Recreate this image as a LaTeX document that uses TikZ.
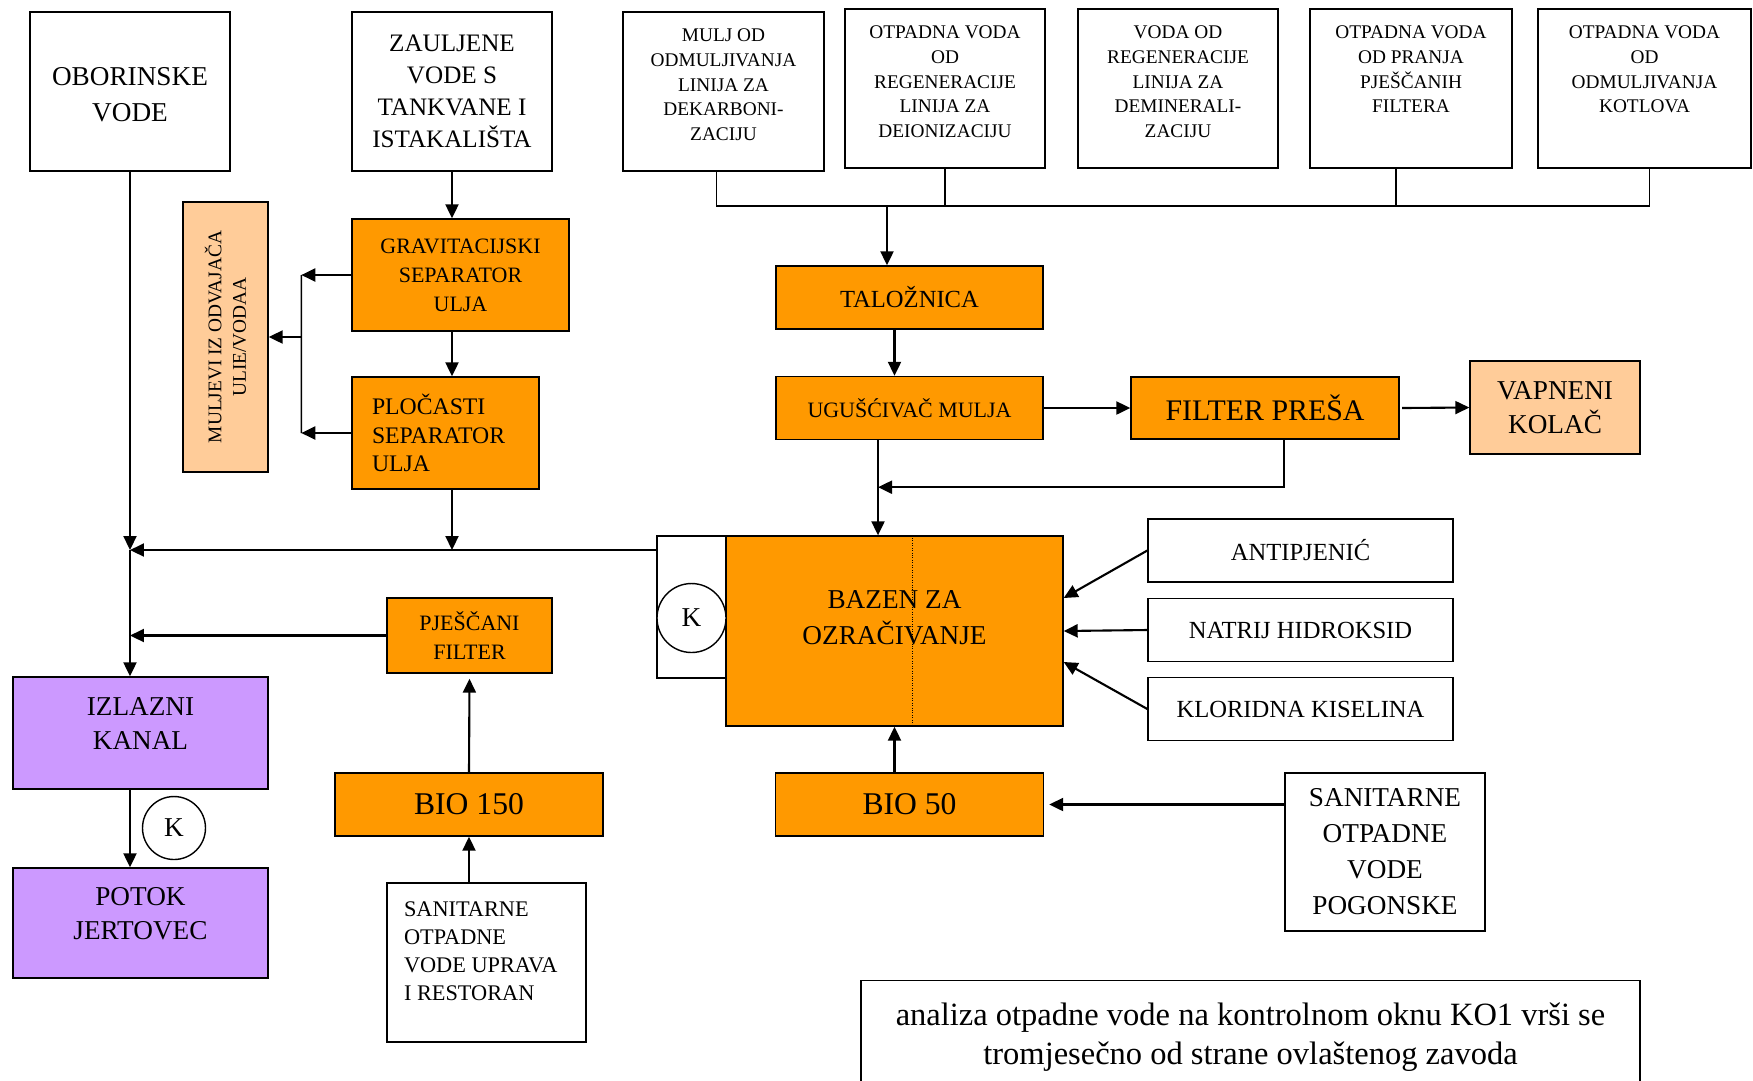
\documentclass[tikz,border=0pt]{standalone}
\usepackage{fontspec}
\setmainfont{Liberation Serif}
\usepackage{xcolor}
\usetikzlibrary{arrows.meta}

\definecolor{orng}{HTML}{FF9900}
\definecolor{peach}{HTML}{FFCC99}
\definecolor{lilac}{HTML}{CC99FF}
\newcommand{\fs}[2]{\fontsize{#1}{#2}\selectfont}
\newcommand{\topcell}[1]{\parbox[c][2.5cm][t]{3.9cm}{\centering #1}}
\newcommand{\liftcell}[2]{\raisebox{#1}[0pt][0pt]{\begin{tabular}{@{}c@{}}#2\end{tabular}}}

\begin{document}
\begin{tikzpicture}[x=0.02cm, y=-0.02cm, >={Triangle[length=2.8mm,width=2.6mm]},
  box/.style={draw, line width=0.8pt, fill=white, inner sep=0pt, align=center},
  obox/.style={box, fill=orng},
  pbox/.style={box, fill=peach},
  lbox/.style={box, fill=lilac},
  kcirc/.style={circle, draw, line width=0.8pt, fill=white, inner sep=0pt, font=\fs{15.5}{18}},
  link/.style={line width=0.8pt},
  flow/.style={->, line width=1.2pt}]
  \clip (0,0) rectangle (1753,1080);
  % sources
  \node[box, font=\fs{15.5}{20.5}, minimum width=4cm, minimum height=3.18cm] (ob) at (130,91.5) {\liftcell{-0.23cm}{OBORINSKE\\VODE}};
  \node[box, font=\fs{14.3}{18.3}, minimum width=4cm, minimum height=3.18cm] (za) at (452,91.5) {ZAULJENE\\VODE S\\TANKVANE I\\ISTAKALIŠTA};
  \node[box, font=\fs{11}{14}, minimum width=4.02cm, minimum height=3.18cm] (t1) at (723.5,91.5) {\topcell{MULJ OD\\ODMULJIVANJA\\LINIJA ZA\\DEKARBONI-\\ZACIJU}};
  \node[box, font=\fs{11}{14}, minimum width=4cm, minimum height=3.18cm] (t2) at (945,88.5) {\topcell{OTPADNA VODA\\OD\\REGENERACIJE\\LINIJA ZA\\DEIONIZACIJU}};
  \node[box, font=\fs{11}{14}, minimum width=4cm, minimum height=3.18cm] (t3) at (1178,88.5) {\topcell{VODA OD\\REGENERACIJE\\LINIJA ZA\\DEMINERALI-\\ZACIJU}};
  \node[box, font=\fs{11}{14}, minimum width=4.04cm, minimum height=3.18cm] (t4) at (1411,88.5) {\topcell{OTPADNA VODA\\OD PRANJA\\PJEŠČANIH\\FILTERA}};
  \node[box, font=\fs{11}{14}, minimum width=4.26cm, minimum height=3.18cm] (t5) at (1644.5,88.5) {\topcell{OTPADNA VODA\\OD\\ODMULJIVANJA\\KOTLOVA}};
  % oil separators
  \node[pbox, font=\fs{11}{14}, rotate=90, minimum width=5.4cm, minimum height=1.7cm] (mu) at (225.5,337) {MULJEVI IZ ODVAJAČA\\ULIE/VODAA};
  \node[obox, font=\fs{12.5}{16.5}, minimum width=4.34cm, minimum height=2.24cm] (gr) at (460.5,275) {GRAVITACIJSKI\\SEPARATOR\\ULJA};
  \node[obox, font=\fs{13.5}{16.2}, text width=2.94cm, align=left, minimum width=3.74cm, minimum height=2.24cm] (pl) at (445.5,433) {PLOČASTI\\SEPARATOR\\ULJA};
  % sludge line
  \node[obox, font=\fs{14}{17}, minimum width=5.34cm, minimum height=1.26cm] (ta) at (909.5,297.5) {TALOŽNICA};
  \node[obox, font=\fs{12.5}{15}, minimum width=5.34cm, minimum height=1.26cm] (ug) at (909.5,408) {UGUŠĆIVAČ MULJA};
  \node[obox, font=\fs{17}{20}, minimum width=5.36cm, minimum height=1.24cm] (fp) at (1265,408) {FILTER PREŠA};
  \node[pbox, font=\fs{15.5}{19.7}, minimum width=3.4cm, minimum height=1.86cm] (vk) at (1555,407.5) {VAPNENI\\KOLAČ};
  % aeration
  \node[obox, font=\fs{15.5}{20.5}, minimum width=6.74cm, minimum height=3.8cm] (bz) at (894.5,631) {\liftcell{0.1cm}{BAZEN ZA\\OZRAČIVANJE}};
  \node[box, minimum width=1.38cm, minimum height=2.84cm] (kb) at (691.5,607) {};
  \node[kcirc, minimum size=1.38cm] (k1) at (691.5,618) {K};
  \node[box, font=\fs{14}{17}, minimum width=6.1cm, minimum height=1.26cm] (an) at (1300.5,550.5) {ANTIPJENIĆ};
  \node[box, font=\fs{14}{17}, minimum width=6.1cm, minimum height=1.26cm] (na) at (1300.5,630) {NATRIJ HIDROKSID};
  \node[box, font=\fs{14}{17}, minimum width=6.1cm, minimum height=1.26cm] (kl) at (1300.5,709) {KLORIDNA KISELINA};
  % outlet
  \node[obox, font=\fs{12.5}{16}, minimum width=3.3cm, minimum height=1.5cm] (pf) at (469.5,635.5) {PJEŠČANI\\FILTER};
  \node[lbox, font=\fs{15.5}{19.7}, minimum width=5.1cm, minimum height=2.24cm] (iz) at (140.5,733) {\liftcell{0.02cm}{IZLAZNI\\KANAL}};
  \node[lbox, font=\fs{15.5}{19.7}, minimum width=5.1cm, minimum height=2.2cm] (po) at (140.5,923) {\liftcell{0.02cm}{POTOK\\JERTOVEC}};
  \node[kcirc, minimum size=1.26cm] (k2) at (174,828) {K};
  \node[obox, font=\fs{18}{21}, minimum width=5.36cm, minimum height=1.26cm] (b150) at (469,804.5) {BIO 150};
  \node[obox, font=\fs{18}{21}, minimum width=5.36cm, minimum height=1.26cm] (b50) at (909.5,804.5) {BIO 50};
  \node[box, font=\fs{12.7}{16}, minimum width=3.98cm, minimum height=3.18cm] (su) at (486.5,962.5) {\parbox[c][2.44cm][t]{3.3cm}{\raggedright SANITARNE\\OTPADNE\\VODE UPRAVA\\I RESTORAN}};
  \node[box, font=\fs{15.5}{20.5}, minimum width=4cm, minimum height=3.16cm] (sp) at (1385,852) {SANITARNE\\OTPADNE\\VODE\\POGONSKE};
  \node[box, anchor=north, font=\fs{18.5}{22.4}, minimum width=15.58cm, minimum height=2.25cm] (ka) at (1250.5,980) {analiza otpadne vode na kontrolnom oknu KO1 vrši se\\tromjesečno od strane ovlaštenog zavoda};

  % left collector
  \coordinate (j1) at (130,550);
  \coordinate (j2) at (j1 |- pf.west);
  \draw[flow] (ob.south) -- (j1);
  \draw[flow] (j1) -- (j1 |- iz.north);
  \draw[flow] (kb.west |- j1) -- (j1);
  \draw[flow] (za.south |- pl.south) -- (za.south |- j1);
  \draw[flow] (pf.west) -- (j2);
  \draw[flow] (j1 |- iz.south) -- (j1 |- po.north);
  % oil separators
  \draw[flow] (za.south) -- (za.south |- gr.north);
  \draw[flow] (za.south |- gr.south) -- (za.south |- pl.north);
  \draw[flow] (gr.west) -- ++(-50,0) coordinate (s1);
  \draw[flow] (pl.west) -- ++(-50,0) coordinate (s2);
  \draw[link] (s1) -- (s2);
  \draw[flow] (s1 |- mu.center) -- (mu.south);
  % top collector
  \coordinate (c0) at (887,206);
  \draw[link] ([xshift=-0.14cm]t1.south) |- ([xshift=0.1cm]t5.south |- c0) -- ([xshift=0.1cm]t5.south);
  \draw[link] (t2.south) -- (t2.south |- c0);
  \draw[link] ([xshift=-0.3cm]t4.south) -- ([xshift=-0.3cm]t4.south |- c0);
  \draw[flow] (c0) -- (c0 |- ta.north);
  % sludge line
  \draw[flow] ([xshift=-0.3cm]ta.south) -- ([xshift=-0.3cm]ug.north);
  \draw[flow] (ug.east) -- (fp.west);
  \draw[flow] ([xshift=0.05cm]fp.east) -- (vk.west);
  \coordinate (u1) at ([xshift=-0.63cm]ug.south);
  \draw[flow] (u1) -- (u1 |- bz.north);
  \draw[flow] ([xshift=0.38cm]fp.south) |- ([yshift=-0.94cm]u1);
  % chemicals and biology
  \draw[flow] (an.west) -- ([yshift=0.66cm]bz.east);
  \draw[flow] (na.west) -- (bz.east);
  \draw[flow] (kl.west) -- ([yshift=-0.62cm]bz.east);
  \draw[densely dotted] ([xshift=0.35cm]bz.north) -- ([xshift=0.35cm]bz.south);
  \draw[flow] (bz.south |- b50.north) -- (bz.south);
  \draw[flow] (sp.west |- b50.east) -- ([xshift=0.1cm]b50.east);
  \draw[flow] (b150.north) -- ([yshift=-0.1cm]pf.south);
  \draw[flow] (b150.south |- su.north) -- (b150.south);
\end{tikzpicture}
\end{document}
